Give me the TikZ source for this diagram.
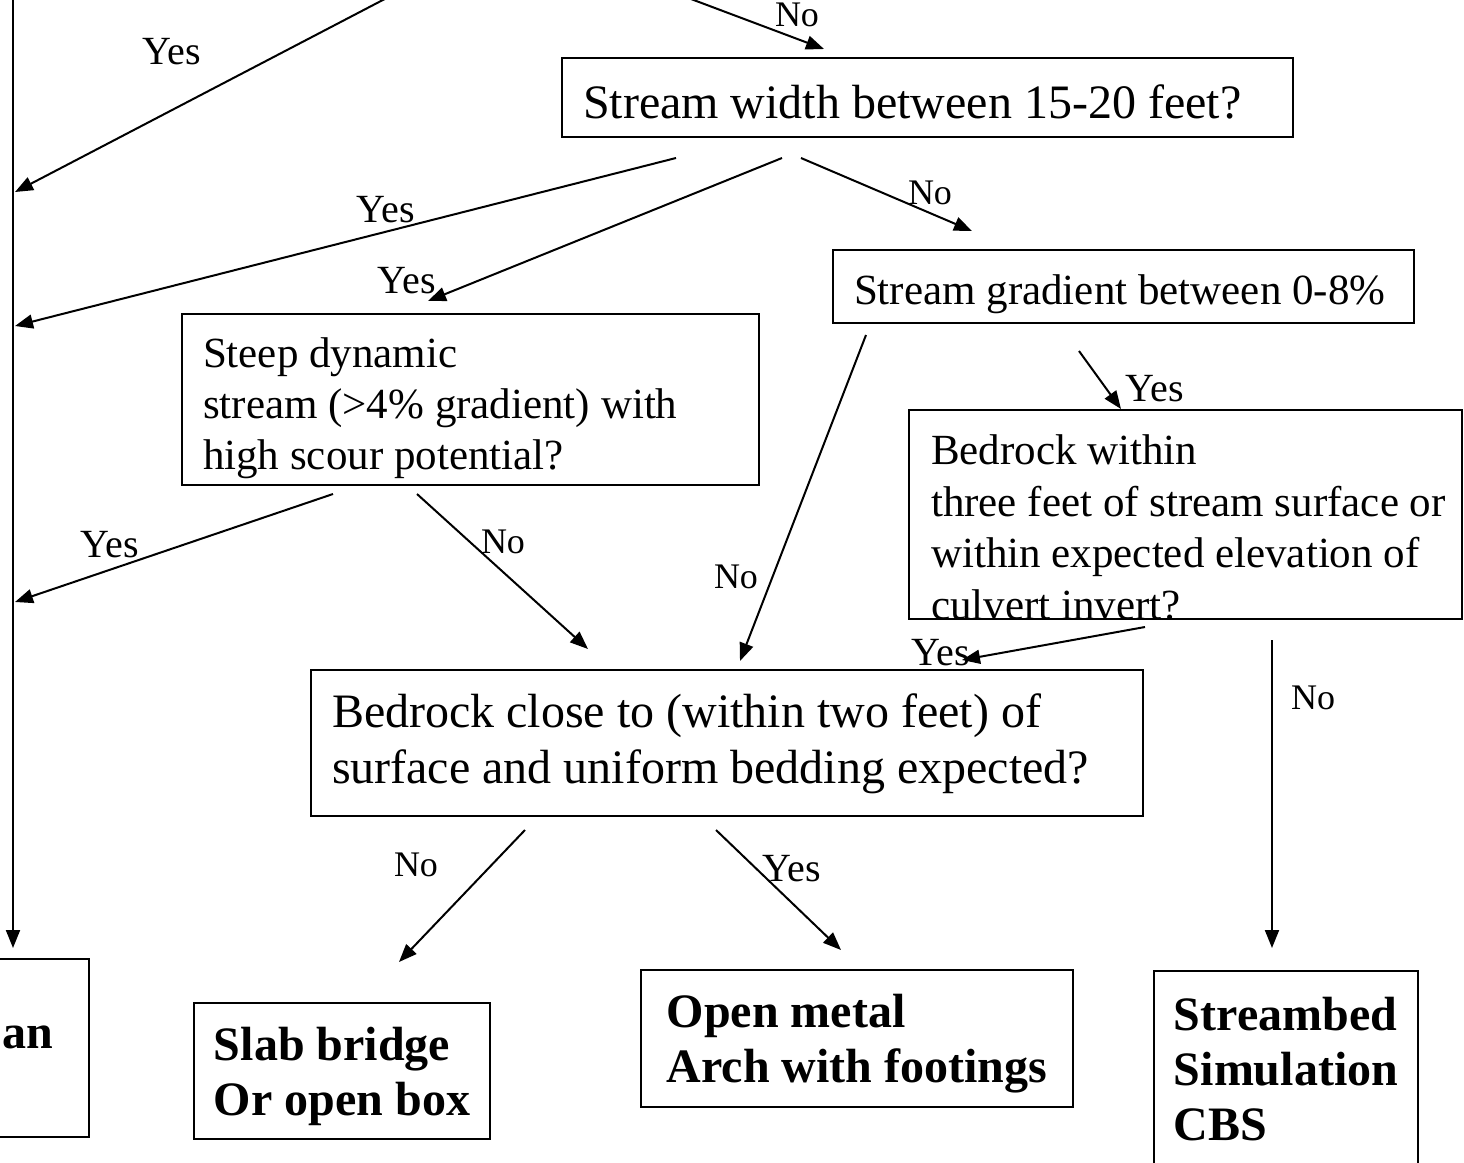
\documentclass[tikz,border=0pt]{standalone}
\usepackage{fontspec}
\setmainfont{Liberation Serif}
\usetikzlibrary{arrows.meta, positioning}

\tikzset{
    qbox/.style={draw, line width=1.1pt, align=flush left, inner xsep=10.5pt, inner ysep=0pt, font=\fontsize{24}{28}\selectfont},
    qboxsm/.style={qbox, font=\fontsize{21.5}{25.7}\selectfont},
    resbox/.style={draw, line width=1.1pt, align=left, inner sep=0pt, text depth=0pt, font=\bfseries\fontsize{24}{27.5}\selectfont},
    yeslbl/.style={font=\fontsize{20}{24}\selectfont, inner sep=0pt},
    nolbl/.style={font=\fontsize{18}{22}\selectfont, inner sep=0pt},
    link/.style={line width=1pt, -{Triangle[length=9pt, width=7pt]}}
}

\begin{document}
\begin{tikzpicture}[x=0.5pt, y=-0.5pt]
        \useasboundingbox (0,0) rectangle (1464,1163);

        \node[qbox, text width=344.5pt, text height=30pt, text depth=9.5pt] (width) at (927.5,97.5) {Stream width between 15-20 feet?};
        \node[qboxsm, text width=269.5pt, text height=27pt, text depth=9.5pt] (gradient) at (1123.5,286.5) {Stream gradient between 0-8\%};
        \node[qboxsm, text width=267.5pt, text height=26.5pt, text depth=59pt] (steep) at (470.5,399.5) {Steep dynamic\\stream (>4\% gradient) with\\high scour potential?};
        \node[draw, line width=1.1pt, minimum width=276.5pt, minimum height=104.5pt, inner sep=0pt] (within) at (1185.5,514.5) {};
        \node[qboxsm, draw=none, align=left, inner sep=0pt, anchor=north west] (withintxt) at (930,434) {Bedrock within\\three feet of stream surface or\\within expected elevation of\\culvert invert?};
        \node[qbox, text width=395pt, text height=28.5pt, text depth=44.5pt] (close) at (727,743) {Bedrock close to (within two feet) of\\surface and uniform bedding expected?};

        \node[resbox, minimum width=150pt, minimum height=89pt, anchor=north east] (span) at (90,958) {};
        \node[resbox, draw=none, anchor=base west] (spantxt) at (1,1048) {an};
        \node[resbox, minimum width=148pt, minimum height=68pt] (slab) at (342,1071) {Slab bridge\\Or open box};
        \node[resbox, minimum width=216pt, minimum height=68.5pt] (arch) at (857,1038.5) {Open metal\\Arch with footings};
        \node[resbox, minimum width=132pt, minimum height=98pt, anchor=north] (sim) at (1286,970) {Streambed\\Simulation\\CBS};

        \coordinate (trunktop) at (13,-10);
        \coordinate (trunkend) at (13,948);
        \coordinate (a1) at (402,-10);   \coordinate (b1) at (15,192);
        \coordinate (a2) at (683,-4);    \coordinate (b2) at (824,49);
        \coordinate (a3) at (676,158);   \coordinate (b3) at (15,326);
        \coordinate (a4) at (782,158);   \coordinate (b4) at (428,301);
        \coordinate (a5) at (801,158);   \coordinate (b5) at (972,231);
        \coordinate (a6) at (333,494);   \coordinate (b6) at (15,602);
        \coordinate (a7) at (417,494);   \coordinate (b7) at (588,649);
        \coordinate (a8) at (866,335);   \coordinate (b8) at (740,661);
        \coordinate (a9) at (1079,351);  \coordinate (b9) at (1121,409);
        \coordinate (a10) at (1145,627); \coordinate (b10) at (962,660);
        \coordinate (a11) at (1272,640); \coordinate (b11) at (1272,948);
        \coordinate (a12) at (525,830);  \coordinate (b12) at (399,962);
        \coordinate (a13) at (716,830);  \coordinate (b13) at (841,950);

        \draw[link] (trunktop) -- (trunkend);
        \draw[link] (a1) -- (b1);
        \draw[link] (a2) -- (b2);
        \draw[link] (a3) -- (b3);
        \draw[link] (a4) -- (b4);
        \draw[link] (a5) -- (b5);
        \draw[link] (a6) -- (b6);
        \draw[link] (a7) -- (b7);
        \draw[link] (a8) -- (b8);
        \draw[link] (a9) -- (b9);
        \draw[link] (a10) -- (b10);
        \draw[link] (a11) -- (b11);
        \draw[link] (a12) -- (b12);
        \draw[link] (a13) -- (b13);

        \node[yeslbl] (y1) at (172,52) {Yes};
        \node[nolbl] (n2) at (797,15) {No};
        \node[yeslbl] (y3) at (386,210) {Yes};
        \node[yeslbl] (y4) at (407,281) {Yes};
        \node[nolbl] (n5) at (930,193) {No};
        \node[yeslbl] (y6) at (110,545) {Yes};
        \node[nolbl] (n7) at (503,542) {No};
        \node[nolbl] (n8) at (736,577) {No};
        \node[yeslbl] (y9) at (1155,389) {Yes};
        \node[yeslbl] (y10) at (941,653) {Yes};
        \node[nolbl] (n11) at (1313,698) {No};
        \node[nolbl] (n12) at (416,865) {No};
        \node[yeslbl] (y13) at (792,869) {Yes};
    \end{tikzpicture}
\end{document}
